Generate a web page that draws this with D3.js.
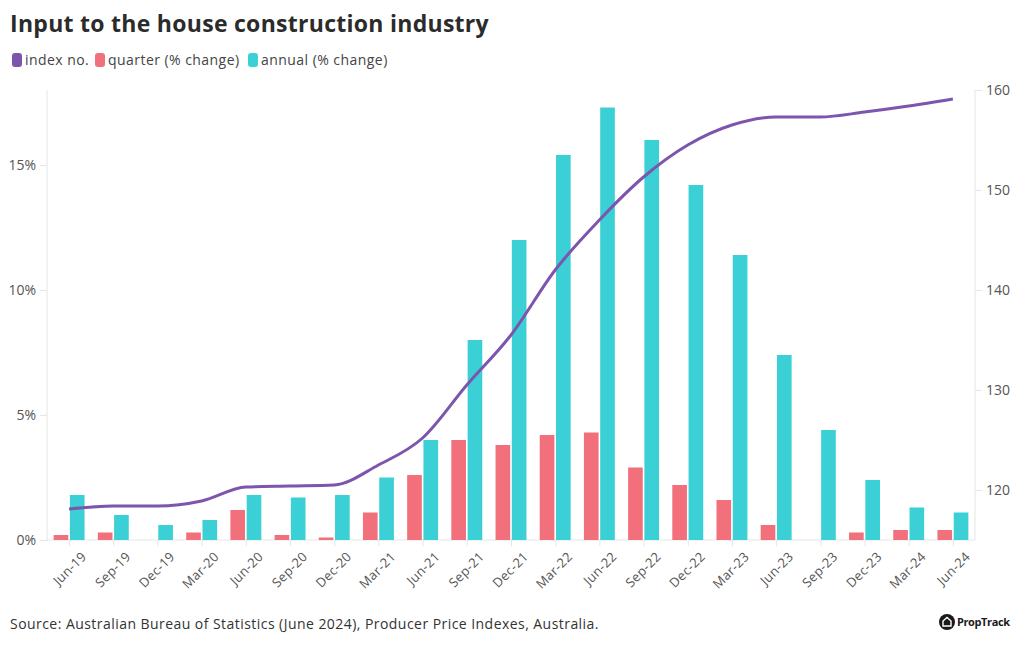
<!DOCTYPE html>
<html><head><meta charset="utf-8">
<script src="https://cdn.jsdelivr.net/npm/d3@7"></script>
<style>
body{margin:0;background:#fff;}
svg{display:block;font-family:"Open Sans","Noto Sans",sans-serif;}
</style></head>
<body><svg id="c" width="1020" height="650"></svg>
<script>
const categories = ["Jun-19","Sep-19","Dec-19","Mar-20","Jun-20","Sep-20","Dec-20","Mar-21","Jun-21","Sep-21","Dec-21","Mar-22","Jun-22","Sep-22","Dec-22","Mar-23","Jun-23","Sep-23","Dec-23","Mar-24","Jun-24"];
const quarterChange = [0.2,0.3,0.0,0.3,1.2,0.2,0.1,1.1,2.6,4.0,3.8,4.2,4.3,2.9,2.2,1.6,0.6,0.0,0.3,0.4,0.4];
const annualChange = [1.8,1.0,0.6,0.8,1.8,1.7,1.8,2.5,4.0,8.0,12.0,15.4,17.3,16.0,14.2,11.4,7.4,4.4,2.4,1.3,1.1];
const indexNo = [118.1,118.4,118.4,118.9,120.3,120.4,120.5,122.5,125.2,130.5,135.5,142.0,147.0,151.3,154.5,156.5,157.3,157.3,157.8,158.4,159.1];
const leftTicks = [0,5,10,15];
const rightTicks = [120,130,140,150,160];
const seriesNames = ["index no.","quarter (% change)","annual (% change)"];
const colors = ["#7d55ad","#f2707b","#3bd0d6"];

const svg = d3.select("#c");
const L = 47, R = 975, T = 90, B = 540;

svg.append("text").attr("x",10).attr("y",32).text("Input to the house construction industry")
  .attr("font-size",23).attr("font-weight",700).attr("fill","#2b2b2b").attr("letter-spacing",0.28);

// legend
const legX = [12,95,248];
seriesNames.forEach((n,i)=>{
  svg.append("rect").attr("x",legX[i]).attr("y",53).attr("width",10).attr("height",14).attr("rx",3).attr("fill",colors[i]);
  svg.append("text").attr("x",legX[i]+13).attr("y",65).text(n).attr("font-size",14).attr("fill","#444").attr("letter-spacing",0.45);
});

const x = d3.scaleBand().domain(categories).range([L,R]).paddingInner(0.3).paddingOuter(0.15);
const xs = d3.scaleBand().domain(["q","a"]).range([0,x.bandwidth()]).paddingInner(0.1);
const yL = d3.scaleLinear().domain([0,18]).range([B,T]);
const yR = d3.scaleLinear().domain([115,160]).range([B,B-450]);

const axisColor = "#e6e6e6";
// left axis
const gl = svg.append("g").attr("transform",`translate(${L},0)`)
  .call(d3.axisLeft(yL).tickValues(leftTicks).tickFormat(d=>d+"%").tickSize(7).tickPadding(4));
gl.select(".domain").attr("stroke",axisColor).attr("d",`M0,${T}V${B}`);
gl.selectAll(".tick line").attr("stroke",axisColor);
gl.selectAll(".tick text").attr("font-size",14).attr("fill","#555").attr("font-family","'Open Sans',sans-serif");

// right axis
const gr = svg.append("g").attr("transform",`translate(${R},0)`)
  .call(d3.axisRight(yR).tickValues(rightTicks).tickSize(7).tickPadding(4));
gr.select(".domain").attr("stroke",axisColor).attr("d",`M0,${T}V${B}`);
gr.selectAll(".tick line").attr("stroke",axisColor);
gr.selectAll(".tick text").attr("font-size",14).attr("fill","#555").attr("font-family","'Open Sans',sans-serif");

// bottom axis
const xc = d3.scalePoint().domain(categories).range([x(categories[0])+x.bandwidth()/2, x(categories[categories.length-1])+x.bandwidth()/2]);
const gb = svg.append("g").attr("transform",`translate(0,${B})`)
  .call(d3.axisBottom(xc).tickSize(6).tickPadding(4));
gb.select(".domain").attr("stroke",axisColor).attr("d",`M${L},0H${R}`);
gb.selectAll(".tick line").attr("stroke",axisColor);
gb.selectAll(".tick text").attr("font-size",13).attr("fill","#555").attr("font-family","'Open Sans',sans-serif")
  .attr("letter-spacing",0.3)
  .attr("text-anchor","end").attr("transform","translate(4,4) rotate(-45)");

// bars
const g = svg.append("g");
categories.forEach((c,i)=>{
  g.append("rect").attr("x",x(c)+xs("q")).attr("width",xs.bandwidth())
    .attr("y",yL(quarterChange[i])).attr("height",B-yL(quarterChange[i])).attr("fill",colors[1]);
  g.append("rect").attr("x",x(c)+xs("a")).attr("width",xs.bandwidth())
    .attr("y",yL(annualChange[i])).attr("height",B-yL(annualChange[i])).attr("fill",colors[2]);
});

// line
const line = d3.line().x((d,i)=>xc(categories[i])).y(d=>yR(d)).curve(d3.curveMonotoneX);
svg.append("path").datum(indexNo).attr("d",line).attr("fill","none").attr("stroke",colors[0]).attr("stroke-width",3);

// source
svg.append("text").attr("x",10).attr("y",629).text("Source: Australian Bureau of Statistics (June 2024), Producer Price Indexes, Australia.")
  .attr("font-size",14).attr("fill","#333").attr("letter-spacing",0.45);

// logo
const lg = svg.append("g").attr("transform","translate(947,622)");
lg.append("circle").attr("r",8).attr("fill","#1a1a1a");
lg.append("path").attr("d","M-4,4V-1L0,-4.5L4,-1V4Z").attr("fill","none").attr("stroke","#fff").attr("stroke-width",1.4);
lg.append("text").attr("x",10).attr("y",4).text("PropTrack").attr("font-size",11).attr("font-weight",700).attr("fill","#1a1a1a").attr("letter-spacing",-0.4);
</script></body></html>
